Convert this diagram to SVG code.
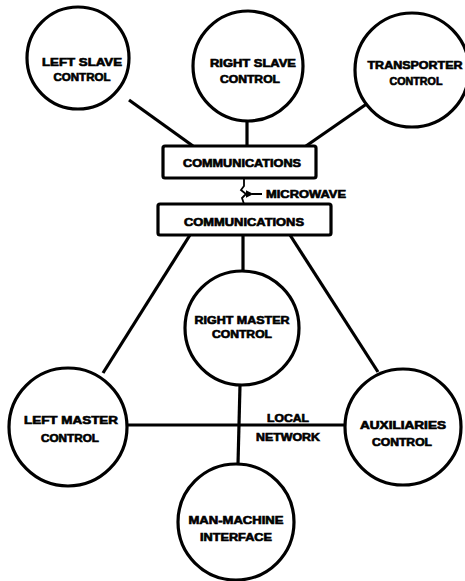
<svg xmlns="http://www.w3.org/2000/svg" width="465" height="581" viewBox="0 0 465 581">
<style>
.n{fill:#fff;stroke:#000;stroke-width:3.2}
.c line,.c path{stroke:#000;stroke-width:3.2;fill:none}
text{font-family:"Liberation Sans",Arial,sans-serif;font-weight:bold;font-size:10px;fill:#000;stroke:#000;stroke-width:0.6;text-anchor:middle}
</style>
<defs>
<marker id="ah" viewBox="0 0 10 10" refX="2" refY="5" markerWidth="4" markerHeight="4" orient="auto-start-reverse"><path d="M0,5 L10,0 L10,10 Z" fill="#000"/></marker>
</defs>
<rect width="465" height="581" fill="#fff"/>
<g class="c" id="connectors">
<line x1="129" y1="100" x2="193" y2="146"/>
<line x1="247" y1="120" x2="247" y2="146"/>
<line x1="368" y1="103" x2="306" y2="146"/>
<path d="M244,178 L244,186 L241,190 L246,194 L242,198 L244,204" style="stroke-width:1.8"/>
<line x1="262" y1="194" x2="252" y2="194" marker-end="url(#ah)" style="stroke-width:2"/>
<line x1="190" y1="235" x2="103" y2="373"/>
<line x1="243" y1="235" x2="243" y2="272"/>
<line x1="290" y1="235" x2="378" y2="372"/>
<line x1="240" y1="385" x2="238" y2="464"/>
<line x1="128" y1="425" x2="344" y2="425"/>
</g>
<g id="left-slave"><circle class="n" cx="78" cy="58" r="51"/><text x="82" y="66" textLength="80" lengthAdjust="spacingAndGlyphs">LEFT SLAVE</text><text x="82" y="81" textLength="57" lengthAdjust="spacingAndGlyphs">CONTROL</text></g>
<g id="right-slave"><circle class="n" cx="248" cy="66" r="55"/><text x="253" y="67" textLength="86" lengthAdjust="spacingAndGlyphs">RIGHT SLAVE</text><text x="250" y="83" textLength="60" lengthAdjust="spacingAndGlyphs">CONTROL</text></g>
<g id="transporter"><circle class="n" cx="412" cy="70" r="57"/><text x="415" y="69" textLength="95" lengthAdjust="spacingAndGlyphs">TRANSPORTER</text><text x="416" y="85" textLength="53" lengthAdjust="spacingAndGlyphs">CONTROL</text></g>
<g id="comm1"><rect class="n" x="163" y="146" width="153" height="32" rx="2"/><text x="242" y="167" textLength="118" lengthAdjust="spacingAndGlyphs">COMMUNICATIONS</text></g>
<g id="microwave-label"><text x="306" y="198" textLength="80" lengthAdjust="spacingAndGlyphs">MICROWAVE</text></g>
<g id="comm2"><rect class="n" x="158" y="204" width="173" height="31" rx="2"/><text x="244" y="226" textLength="120" lengthAdjust="spacingAndGlyphs">COMMUNICATIONS</text></g>
<g id="right-master"><circle class="n" cx="242" cy="328" r="57"/><text x="242" y="324" textLength="95" lengthAdjust="spacingAndGlyphs">RIGHT MASTER</text><text x="242" y="338" textLength="60" lengthAdjust="spacingAndGlyphs">CONTROL</text></g>
<g id="left-master"><circle class="n" cx="68" cy="427" r="59"/><text x="71" y="424" textLength="94" lengthAdjust="spacingAndGlyphs">LEFT MASTER</text><text x="70" y="442" textLength="58" lengthAdjust="spacingAndGlyphs">CONTROL</text></g>
<g id="auxiliaries"><circle class="n" cx="403" cy="427" r="58"/><text x="403" y="429" textLength="86" lengthAdjust="spacingAndGlyphs">AUXILIARIES</text><text x="402" y="446" textLength="60" lengthAdjust="spacingAndGlyphs">CONTROL</text></g>
<g id="local-network-label"><text x="288" y="422" textLength="42" lengthAdjust="spacingAndGlyphs">LOCAL</text><text x="288" y="441" textLength="64" lengthAdjust="spacingAndGlyphs">NETWORK</text></g>
<g id="man-machine"><circle class="n" cx="236" cy="522" r="58"/><text x="236" y="524" textLength="95" lengthAdjust="spacingAndGlyphs">MAN-MACHINE</text><text x="236" y="541" textLength="72" lengthAdjust="spacingAndGlyphs">INTERFACE</text></g>
</svg>
